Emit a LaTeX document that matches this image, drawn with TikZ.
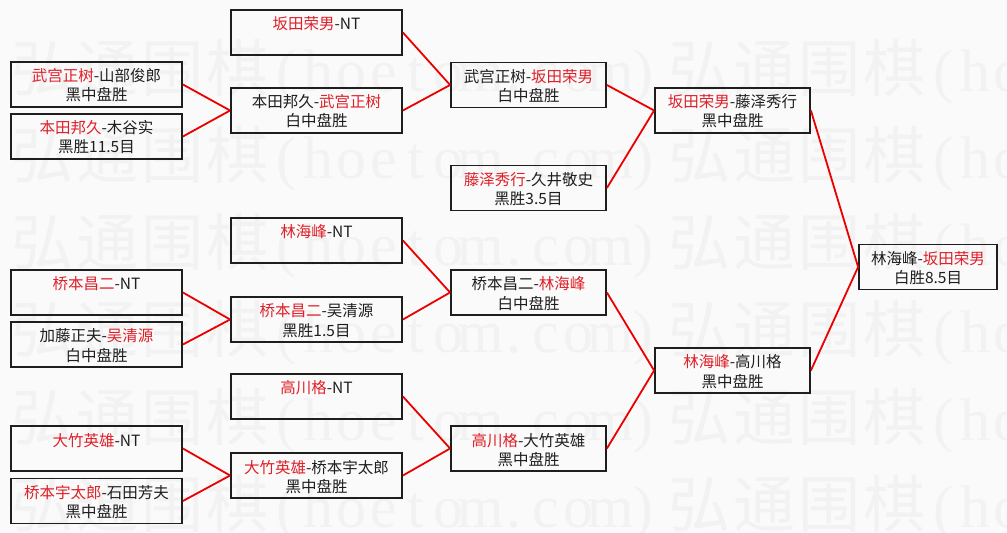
\documentclass[tikz,border=0pt]{standalone}
\usepackage{fontspec}
\newfontfamily\cjk{Noto Sans CJK SC}
\newfontfamily\wmlat{Liberation Serif}
\definecolor{wred}{RGB}{222,32,40}
\definecolor{lred}{RGB}{235,0,0}
\definecolor{wm}{RGB}{242,242,242}
\definecolor{bg}{RGB}{250,250,250}
\definecolor{ink}{RGB}{30,30,30}
\newcommand\rd[1]{\textcolor{wred}{#1}}
\def\lp{(}\def\rp{)}\def\dt{.}
\newcommand\mybox[6]{%
  \node[box,minimum width=#4bp] (#1) at (#2,#3) {};
  \node[txt] (#1t) at ([yshift=2.5bp]#1.center) {#5};
  \node[txt] (#1b) at ([yshift=-16.5bp]#1.center) {#6};}
\begin{document}
\begin{tikzpicture}[x=1bp,y=-1bp,
  box/.style={draw=ink,line width=1.8bp,minimum height=45bp,inner sep=0pt},
  txt/.style={anchor=base,inner sep=0pt,text=ink,font=\cjk\fontsize{15.5bp}{18bp}\selectfont},
  link/.style={draw=lred,line width=1.8bp},
  wmc/.style={anchor=base,inner sep=0pt,text=wm,font=\cjk\fontsize{62bp}{62bp}\selectfont},
  wma/.style={anchor=base,inner sep=0pt,text=wm,font=\wmlat\fontsize{60bp}{60bp}\selectfont}]
\fill[bg] (0,0) rectangle (1007,533);
\useasboundingbox (0,0) rectangle (1007,533);
\begin{scope}
\clip (0,0) rectangle (1007,533);
\foreach \r in {0,...,5}{
  \foreach \xo in {10,667}{
    \foreach \c [count=\i from 0] in {弘,通,围,棋}
      \node[wmc] at (\xo+32.5+65*\i, 92+87*\r) {\c};
    \foreach \c [count=\j from 0] in {\lp,h,o,e,t,o,m,\dt,c,o,m,\rp}
      \node[wma] at (\xo+276.25+32.5*\j, 92+87*\r) {\c};
  }}
\end{scope}
% round 1
\mybox{a1}{96.5}{84.5}{171}{\rd{武宫正树}-山部俊郎}{黑中盘胜}
\mybox{a2}{96.5}{136.5}{171}{\rd{本田邦久}-木谷实}{黑胜11.5目}
\mybox{a3}{96.5}{292.5}{171}{\rd{桥本昌二}-NT}{}
\mybox{a4}{96.5}{344.5}{171}{加藤正夫-\rd{吴清源}}{白中盘胜}
\mybox{a5}{96.5}{448.5}{171}{\rd{大竹英雄}-NT}{}
\mybox{a6}{96.5}{501}{171}{\rd{桥本宇太郎}-石田芳夫}{黑中盘胜}
% round 2
\mybox{b1}{316.5}{32.5}{171}{\rd{坂田荣男}-NT}{}
\mybox{b2}{316.5}{110.5}{171}{本田邦久-\rd{武宫正树}}{白中盘胜}
\mybox{b3}{316.5}{240.5}{171}{\rd{林海峰}-NT}{}
\mybox{b4}{316.5}{319.5}{171}{\rd{桥本昌二}-吴清源}{黑胜1.5目}
\mybox{b5}{316.5}{396.5}{171}{\rd{高川格}-NT}{}
\mybox{b6}{316.5}{475.5}{171}{\rd{大竹英雄}-桥本宇太郎}{黑中盘胜}
% round 3
\mybox{c1}{528.5}{85}{155}{武宫正树-\rd{坂田荣男}}{白中盘胜}
\mybox{c2}{528.5}{188}{155}{\rd{藤泽秀行}-久井敬史}{黑胜3.5目}
\mybox{c3}{528.5}{292.5}{155}{桥本昌二-\rd{林海峰}}{白中盘胜}
\mybox{c4}{528.5}{448.5}{155}{\rd{高川格}-大竹英雄}{黑中盘胜}
% round 4
\mybox{d1}{732.5}{110.5}{155}{\rd{坂田荣男}-藤泽秀行}{黑中盘胜}
\mybox{d2}{732.5}{370.5}{155}{\rd{林海峰}-高川格}{黑中盘胜}
% final
\mybox{e}{928}{267}{138}{林海峰-\rd{坂田荣男}}{白胜8.5目}
% connectors
\draw[link] (a1.east) -- (b2.west);
\draw[link] (a2.east) -- (b2.west);
\draw[link] (a3.east) -- (b4.west);
\draw[link] (a4.east) -- (b4.west);
\draw[link] (a5.east) -- (b6.west);
\draw[link] (a6.east) -- (b6.west);
\draw[link] (b1.east) -- (c1.west);
\draw[link] (b2.east) -- (c1.west);
\draw[link] (b3.east) -- (c3.west);
\draw[link] (b4.east) -- (c3.west);
\draw[link] (b5.east) -- (c4.west);
\draw[link] (b6.east) -- (c4.west);
\draw[link] (c1.east) -- (d1.west);
\draw[link] (c2.east) -- (d1.west);
\draw[link] (c3.east) -- (d2.west);
\draw[link] (c4.east) -- (d2.west);
\draw[link] (d1.east) -- (e.west);
\draw[link] (d2.east) -- (e.west);
\end{tikzpicture}
\end{document}
